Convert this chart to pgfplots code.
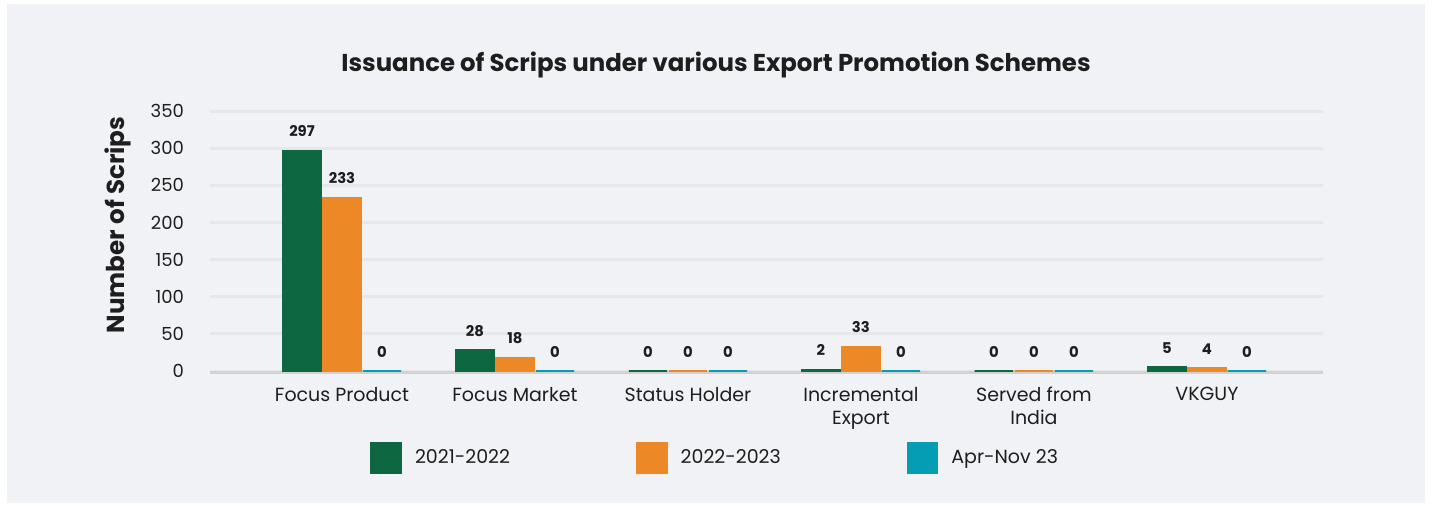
\documentclass[border=0pt]{standalone}
\usepackage{pgfplots}
\pgfplotsset{compat=1.18}
\usepackage{pgfplotstable}
\usepackage{fontspec}
\setmainfont{Poppins}
\definecolor{panel}{HTML}{F1F2F6}
\definecolor{cgreen}{HTML}{0D6741}
\definecolor{corange}{HTML}{EC8825}
\definecolor{cteal}{HTML}{049DB3}
\definecolor{gridc}{HTML}{E6E7EA}
\definecolor{axisc}{HTML}{D2D2D2}
\definecolor{txt}{HTML}{1E1E1E}

\pgfplotstableread{
x y1 y2 y3
0 297 233 0
1 28 18 0
2 0 0 0
3 2 33 0
4 0 0 0
5 5 4 0
}\datatable

\begin{document}
\begin{tikzpicture}[x=1pt,y=1pt]
\fill[white] (-105,-67) rectangle (611,185.5);
\fill[panel] (-101.5,-66) rectangle (607.5,183.5);
\begin{axis}[
  at={(0,0)}, anchor=south west,
  scale only axis, width=556.5pt, height=130pt,
  xmin=-0.763, xmax=5.671, ymin=0, ymax=350,
  enlargelimits=false, clip=false,
  /pgf/number format/assume math mode=true,
  axis x line*=bottom, axis y line*=left,
  y axis line style={draw=none},
  x axis line style={draw=axisc, line width=1.5pt, yshift=-0.75pt, -},
  major tick length=0pt, tick style={draw=none},
  ymajorgrids, grid style={draw=gridc, line width=1.5pt},
  ytick={0,50,...,350},
  xtick={0,1,2,3,4,5},
  xticklabels={Focus Product,Focus Market,Status Holder,{Incremental\\Export},{Served from\\India},VKGUY},
  xticklabel style={align=center, font=\fontsize{9.5}{11.5}\selectfont, text=txt, yshift=-4.5pt},
  yticklabel style={anchor=east, font=\fontsize{9}{11}\selectfont, text=txt, xshift=-9.5pt},
  point meta=y,
  nodes near coords,
  every node near coord/.append style={font=\bfseries\fontsize{7.4}{8}\selectfont, text=txt, anchor=base, yshift=7pt},
  legend columns=3,
  legend style={at={(0.1438,-0.3346)}, anchor=west, draw=none, fill=none, inner sep=0pt,
    font=\fontsize{9.5}{11}\selectfont, text=txt,
    /tikz/every odd column/.append style={column sep=4.5pt},
    /tikz/every even column/.append style={column sep=61pt}},
]
\addplot[ybar, bar width=19.2pt, bar shift=-20pt, fill=cgreen, draw=cgreen, line width=0.8pt,
  every node near coord/.append style={xshift=-20pt},
  legend image code/.code={\fill[cgreen] (0pt,-7.5pt) rectangle (15pt,7.5pt);}]
  table[x=x,y=y1]{\datatable};
\addplot[ybar, bar width=19.2pt, bar shift=0pt, fill=corange, draw=corange, line width=0.8pt,
  legend image code/.code={\fill[corange] (0pt,-7.5pt) rectangle (15pt,7.5pt);}]
  table[x=x,y=y2]{\datatable};
\addplot[ybar, bar width=19.2pt, bar shift=20pt, fill=cteal, draw=cteal, line width=0.8pt,
  every node near coord/.append style={xshift=20pt},
  legend image code/.code={\fill[cteal] (0pt,-7.5pt) rectangle (15pt,7.5pt);}]
  table[x=x,y=y3]{\datatable};
\legend{2021-2022,2022-2023,Apr-Nov 23}
\end{axis}
\node[anchor=base, font=\bfseries\fontsize{12.2}{14}\selectfont, text=txt] at (253,150) {Issuance of Scrips under various Export Promotion Schemes};
\node[rotate=90, font=\bfseries\fontsize{12.3}{15}\selectfont, text=txt] at (-46,73) {Number of Scrips};
\end{tikzpicture}
\end{document}
